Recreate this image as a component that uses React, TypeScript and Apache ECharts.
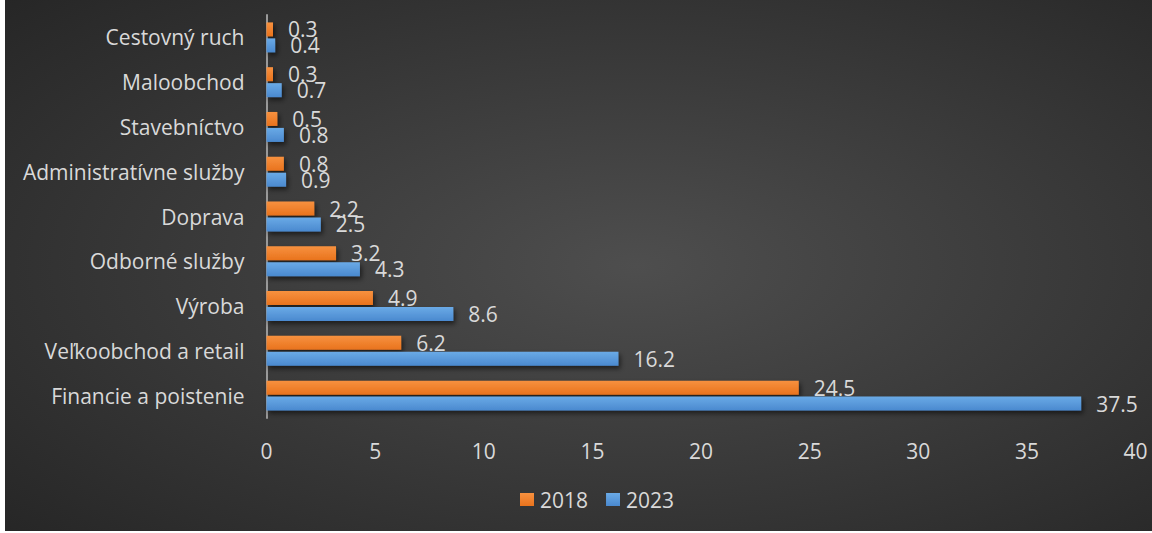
import React, { useEffect, useRef } from "react";
import * as echarts from "echarts";

const categories = [
  "Cestovný ruch",
  "Maloobchod",
  "Stavebníctvo",
  "Administratívne služby",
  "Doprava",
  "Odborné služby",
  "Výroba",
  "Veľkoobchod a retail",
  "Financie a poistenie",
];
const values2018 = [0.3, 0.3, 0.5, 0.8, 2.2, 3.2, 4.9, 6.2, 24.5];
const values2023 = [0.4, 0.7, 0.8, 0.9, 2.5, 4.3, 8.6, 16.2, 37.5];
const seriesNames = ["2018", "2023"];

const FONT = "'Open Sans', sans-serif";
const TXT = "#d9d9d9";
const FS = 21;

export default function App() {
  const ref = useRef<HTMLDivElement>(null);
  useEffect(() => {
    if (!ref.current) return;
    const chart = echarts.init(ref.current, undefined, { renderer: "svg" });
    const barStyle = (top: string, bottom: string) => ({
      color: {
        type: "linear",
        x: 0,
        y: 0,
        x2: 0,
        y2: 1,
        colorStops: [
          { offset: 0, color: top },
          { offset: 1, color: bottom },
        ],
      },
      shadowColor: "rgba(0,0,0,0.55)",
      shadowBlur: 5,
      shadowOffsetX: 2,
      shadowOffsetY: 3,
    });
    const label = {
      show: true,
      position: "right",
      distance: 15,
      color: TXT,
      fontFamily: FONT,
      fontSize: FS,
    };
    chart.setOption({
      animation: false,
      backgroundColor: {
        type: "radial",
        x: 0.55,
        y: 0.5,
        r: 0.75,
        colorStops: [
          { offset: 0, color: "#4e4e4e" },
          { offset: 1, color: "#262626" },
        ],
      },
      textStyle: { fontFamily: FONT },
      grid: { left: 261.5, right: 16.5, top: 15, bottom: 113, containLabel: false },
      legend: {
        data: seriesNames,
        left: 515,
        top: 489,
        padding: 0,
        itemWidth: 14,
        itemHeight: 13,
        itemGap: 18,
        icon: "rect",
        textStyle: { color: TXT, fontSize: FS, fontFamily: FONT, padding: [0, 0, 0, 1] },
      },
      xAxis: {
        type: "value",
        min: 0,
        max: 40,
        interval: 5,
        axisLine: { show: false },
        axisTick: { show: false },
        splitLine: { show: false },
        axisLabel: { color: TXT, fontSize: FS, fontFamily: FONT, margin: 22 },
      },
      yAxis: {
        type: "category",
        data: categories,
        inverse: true,
        axisLine: { show: true, lineStyle: { color: "#9a9a9a", width: 2 } },
        axisTick: { show: false },
        axisLabel: { color: TXT, fontSize: FS, fontFamily: FONT, margin: 22 },
      },
      series: [
        {
          name: seriesNames[0],
          type: "bar",
          data: values2018,
          barWidth: 14,
          barGap: "14%",
          itemStyle: barStyle("#f7913f", "#e9731d"),
          label,
        },
        {
          name: seriesNames[1],
          type: "bar",
          data: values2023,
          barWidth: 14,
          barGap: "14%",
          itemStyle: barStyle("#6aaae6", "#4a89cf"),
          label,
        },
      ],
    });
    return () => chart.dispose();
  }, []);
  return (
    <div style={{ position: "fixed", left: 0, top: 0, width: 1152, height: 533, background: "#ffffff" }}>
      <div ref={ref} style={{ position: "absolute", left: 5, top: 0, width: 1147, height: 531 }} />
    </div>
  );
}
